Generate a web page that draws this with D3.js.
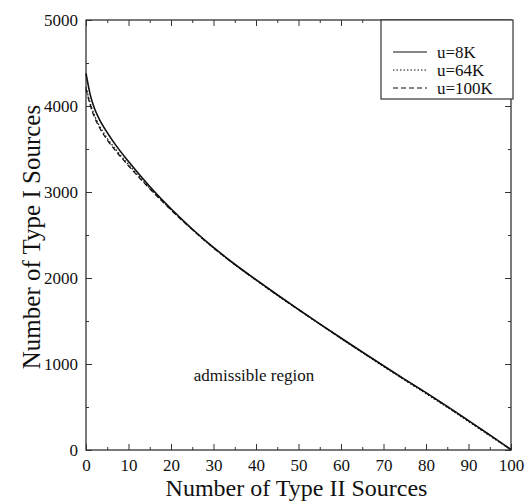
<!DOCTYPE html>
<html>
<head>
<meta charset="utf-8">
<script src="https://cdn.jsdelivr.net/npm/d3@7"></script>
<style>
  body { margin: 0; background: #fff; }
  svg text { font-family: "Liberation Serif", "DejaVu Serif", serif; fill: #111; }
</style>
</head>
<body>
<svg id="chart" width="528" height="501"></svg>
<script>
(function() {

    // x values (number of type II sources)
    var xs = [0, 1, 2, 3, 5, 7, 10, 15, 20, 25, 30, 35, 40, 45, 50, 55, 60, 65, 70, 75, 80, 85, 90, 95, 100];
    // number of type I sources for each buffer size
    var u8 = [4380, 4130, 3970, 3860, 3690, 3545, 3355, 3065, 2805, 2570, 2355, 2160, 1980, 1805, 1635, 1467, 1302, 1140, 980, 822, 667, 507, 342, 175, 5];
    var u64 = [4220, 4030, 3890, 3785, 3625, 3495, 3320, 3045, 2795, 2564, 2350, 2156, 1975, 1800, 1630, 1462, 1296, 1133, 972, 812, 656, 496, 332, 166, 2];
    var u100 = [4200, 4010, 3870, 3765, 3605, 3478, 3305, 3038, 2792, 2563, 2350, 2157, 1977, 1802, 1632, 1465, 1300, 1137, 977, 818, 662, 503, 338, 171, 4];
    var names = ['u=8K', 'u=64K', 'u=100K'];
    var dashes = [null, '1.5,2', '5,3'];
    var xTicks = [0, 10, 20, 30, 40, 50, 60, 70, 80, 90, 100];
    var yTicks = [0, 1000, 2000, 3000, 4000, 5000];

    var L = 86, R = 511, T = 20, B = 450;
    var serif = '"Liberation Serif", "DejaVu Serif", serif';
    var svg = d3.select('#chart');

    var x = d3.scaleLinear().domain([0, 100]).range([L, R]);
    var y = d3.scaleLinear().domain([0, 5000]).range([B, T]);

    var axisColor = '#333';

    // frame
    svg.append('rect')
        .attr('x', L).attr('y', T)
        .attr('width', R - L).attr('height', B - T)
        .attr('fill', 'none')
        .attr('stroke', axisColor)
        .attr('stroke-width', 1.3);

    // ticks: inward, on all four sides
    var xMinor = d3.range(5, 100, 10);
    var yMinor = d3.range(500, 5000, 1000);

    function tickAxis(axis, tr) {
        var g = svg.append('g').attr('transform', tr).call(axis);
        g.attr('font-family', serif);
        g.select('.domain').remove();
        g.selectAll('line').attr('stroke', axisColor).attr('stroke-width', 1);
        g.selectAll('text')
            .style('font-family', serif)
            .style('font-size', '17px')
            .attr('fill', '#111');
        return g;
    }

    tickAxis(d3.axisBottom(x).tickValues(xTicks).tickSize(-6).tickPadding(9).tickFormat(d3.format('d')),
        'translate(0,' + B + ')');
    tickAxis(d3.axisBottom(x).tickValues(xMinor).tickSize(-3).tickFormat(''), 'translate(0,' + B + ')');
    tickAxis(d3.axisTop(x).tickValues(xTicks).tickSize(-6).tickFormat(''), 'translate(0,' + T + ')');
    tickAxis(d3.axisTop(x).tickValues(xMinor).tickSize(-3).tickFormat(''), 'translate(0,' + T + ')');

    tickAxis(d3.axisLeft(y).tickValues(yTicks).tickSize(-6).tickPadding(8).tickFormat(d3.format('d')),
        'translate(' + L + ',0)');
    tickAxis(d3.axisLeft(y).tickValues(yMinor).tickSize(-3).tickFormat(''), 'translate(' + L + ',0)');
    tickAxis(d3.axisRight(y).tickValues(yTicks).tickSize(-6).tickFormat(''), 'translate(' + R + ',0)');
    tickAxis(d3.axisRight(y).tickValues(yMinor).tickSize(-3).tickFormat(''), 'translate(' + R + ',0)');

    // curves
    var series = [u8, u64, u100];
    var line = d3.line()
        .x(function(d) { return x(d[0]); })
        .y(function(d) { return y(d[1]); })
        .curve(d3.curveMonotoneX);

    series.forEach(function(vals, i) {
        svg.append('path')
            .datum(xs.map(function(v, j) { return [v, vals[j]]; }))
            .attr('d', line)
            .attr('fill', 'none')
            .attr('stroke', '#111')
            .attr('stroke-width', i === 0 ? 1.6 : 1.3)
            .attr('stroke-dasharray', dashes[i]);
    });

    // legend
    var lg = svg.append('g');
    lg.append('rect')
        .attr('x', 381).attr('y', T)
        .attr('width', 132).attr('height', 79)
        .attr('fill', '#fff')
        .attr('stroke', axisColor)
        .attr('stroke-width', 1.2);
    names.forEach(function(n, i) {
        var yy = 52 + i * 18;
        lg.append('line')
            .attr('x1', 393).attr('x2', 427)
            .attr('y1', yy).attr('y2', yy)
            .attr('stroke', '#111')
            .attr('stroke-width', 1.2)
            .attr('stroke-dasharray', dashes[i]);
        lg.append('text')
            .attr('x', 437).attr('y', yy + 6)
            .attr('font-size', 17)
            .text(n);
    });

    // annotation
    svg.append('text')
        .attr('x', 254).attr('y', 381)
        .attr('text-anchor', 'middle')
        .attr('font-size', 17)
        .text('admissible region');

    // axis titles
    svg.append('text')
        .attr('x', (L + R) / 2 - 2).attr('y', 496)
        .attr('text-anchor', 'middle')
        .attr('font-size', 24)
        .text('Number of Type II Sources');

    svg.append('text')
        .attr('transform', 'translate(40,' + ((T + B) / 2 + 2) + ') rotate(-90)')
        .attr('text-anchor', 'middle')
        .attr('font-size', 25)
        .text('Number of Type I Sources');

})();
</script>
</body>
</html>
